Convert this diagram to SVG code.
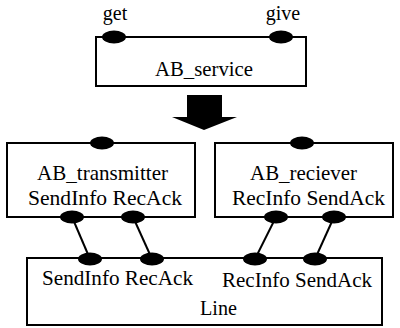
<svg xmlns="http://www.w3.org/2000/svg" width="400" height="328" viewBox="0 0 400 328">
<style>
.box{fill:#fff;stroke:#000;stroke-width:2}
.port{fill:#000}
.t{font-family:"Liberation Serif","Times New Roman",serif;font-size:22px;fill:#000}
.s{font-family:"Liberation Serif","Times New Roman",serif;font-size:20px;fill:#000}
.c{stroke:#000;stroke-width:2;fill:none}
</style>
<rect width="400" height="328" fill="#fff"/>
<g id="AB_service">
<rect class="box" x="96" y="37" width="210" height="49"/>
<ellipse class="port" cx="114" cy="37" rx="12" ry="6.5"/>
<ellipse class="port" cx="281" cy="37" rx="12" ry="6.5"/>
<text class="s" x="115" y="20" text-anchor="middle">get</text>
<text class="s" x="283" y="20" text-anchor="middle">give</text>
<text class="t" x="155" y="76" textLength="98" lengthAdjust="spacingAndGlyphs">AB_service</text>
</g>
<g id="refine-arrow">
<polygon fill="#000" points="187,95 222,95 222,117 237,117 204,130 172,117 187,117"/>
</g>
<g id="AB_transmitter">
<rect class="box" x="7" y="143" width="188" height="74"/>
<ellipse class="port" cx="102" cy="143" rx="12" ry="6.5"/>
<ellipse class="port" cx="72" cy="217" rx="12" ry="6.5"/>
<ellipse class="port" cx="133" cy="217" rx="12" ry="6.5"/>
<text class="t" x="37" y="180" textLength="131" lengthAdjust="spacingAndGlyphs">AB_transmitter</text>
<text class="t" x="28" y="205" textLength="154" lengthAdjust="spacingAndGlyphs">SendInfo RecAck</text>
</g>
<g id="AB_reciever">
<rect class="box" x="215" y="143" width="178" height="74"/>
<ellipse class="port" cx="302" cy="143" rx="12" ry="6.5"/>
<ellipse class="port" cx="276" cy="217" rx="12" ry="6.5"/>
<ellipse class="port" cx="334" cy="217" rx="12" ry="6.5"/>
<text class="t" x="250" y="180" textLength="107" lengthAdjust="spacingAndGlyphs">AB_reciever</text>
<text class="t" x="232" y="205" textLength="153" lengthAdjust="spacingAndGlyphs">RecInfo SendAck</text>
</g>
<g id="Line">
<rect class="box" x="27" y="258" width="355" height="67"/>
<ellipse class="port" cx="90" cy="259" rx="12" ry="6.5"/>
<ellipse class="port" cx="152" cy="259" rx="12" ry="6.5"/>
<ellipse class="port" cx="255" cy="259" rx="12" ry="6.5"/>
<ellipse class="port" cx="315" cy="259" rx="12" ry="6.5"/>
<text class="t" x="42" y="285" textLength="151" lengthAdjust="spacingAndGlyphs">SendInfo RecAck</text>
<text class="t" x="222" y="287" textLength="150" lengthAdjust="spacingAndGlyphs">RecInfo SendAck</text>
<text class="t" x="200" y="315" textLength="37" lengthAdjust="spacingAndGlyphs">Line</text>
</g>
<g id="connectors">
<line class="c" x1="72" y1="217" x2="90" y2="259"/>
<line class="c" x1="133" y1="217" x2="152" y2="259"/>
<line class="c" x1="276" y1="217" x2="255" y2="259"/>
<line class="c" x1="334" y1="217" x2="315" y2="259"/>
</g>
</svg>
